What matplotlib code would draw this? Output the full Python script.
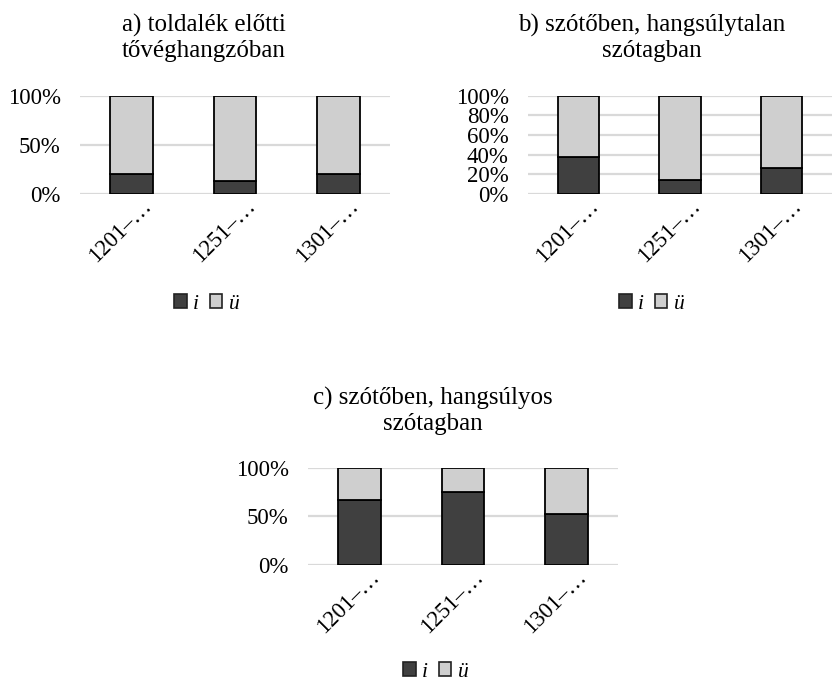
import numpy as np
import matplotlib
matplotlib.use("Agg")
import matplotlib.pyplot as plt
from matplotlib.patches import Patch
from matplotlib.transforms import ScaledTranslation
from matplotlib.ticker import FuncFormatter

plt.rcParams["font.family"] = ["Liberation Serif", "DejaVu Serif"]

# data (shares of i, the rest is ü)
periods = ["1201–…", "1251–…", "1301–…"]
titles = ["a) toldalék előtti\ntővéghangzóban",
          "b) szótőben, hangsúlytalan\nszótagban",
          "c) szótőben, hangsúlyos\nszótagban"]
share_i = [
    [0.20, 0.13, 0.20],
    [0.38, 0.14, 0.265],
    [0.668, 0.75, 0.52],
]
ytick_sets = [
    [0, 0.5, 1.0],
    [0, 0.2, 0.4, 0.6, 0.8, 1.0],
    [0, 0.5, 1.0],
]
legend_labels = ["i", "ü"]

DARK = "#404040"
LIGHT = "#cfcfcf"
GRID = "#d9d9d9"

W, H = 834, 685
fig = plt.figure(figsize=(W / 100, H / 100), dpi=100)

# panel boxes in pixels: left, right, top(100%), bottom(0%)
boxes = [(80, 390, 95.7, 194), (528, 832, 95.7, 194), (308, 618, 467.7, 565)]
title_pos = [(204, 38), (652, 38), (433, 411)]
legend_pos = [(207, 304), (652, 304), (436, 672)]

for k in range(3):
    l, r, t, b = boxes[k]
    ax = fig.add_axes([l / W, 1 - b / H, (r - l) / W, (b - t) / H])
    x = np.arange(len(periods))
    vi = np.array(share_i[k])
    ax.bar(x, vi, width=0.41, color=DARK, edgecolor="black", lw=1.3, zorder=3)
    ax.bar(x, 1 - vi, bottom=vi, width=0.41, color=LIGHT, edgecolor="black", lw=1.3, zorder=3)
    ax.set_xlim(-0.5, 2.5)
    ax.set_ylim(0, 1)
    ax.set_yticks(ytick_sets[k])
    ax.yaxis.set_major_formatter(FuncFormatter(lambda v, p: f"{v*100:.0f}%"))
    ax.grid(axis="y", color=GRID, lw=1.6, zorder=0)
    ax.set_axisbelow(True)
    for s in ax.spines.values():
        s.set_visible(False)
    ax.tick_params(axis="y", length=0, pad=14, labelsize=16.5)
    ax.tick_params(axis="x", length=0, pad=0, labelsize=16.5)
    ax.set_xticks(x)
    ax.set_xticklabels(periods, rotation=45, ha="right", va="baseline",
                       rotation_mode="anchor")
    off = ScaledTranslation(0.21, -0.13, fig.dpi_scale_trans)
    for lab in ax.get_xticklabels():
        lab.set_transform(lab.get_transform() + off)

    tx, ty = title_pos[k]
    fig.text(tx / W, 1 - ty / H, titles[k], ha="center", va="center",
             fontsize=18, linespacing=1.22)

    handles = [Patch(facecolor=DARK, edgecolor="#222222", lw=1.2),
               Patch(facecolor=LIGHT, edgecolor="#222222", lw=1.2)]
    lx, ly = legend_pos[k]
    fig.legend(handles, legend_labels, loc="center", ncol=2,
               bbox_to_anchor=(lx / W, 1 - ly / H), frameon=False,
               prop={"style": "italic", "size": 15.5},
               handlelength=0.58, handleheight=0.58, handletextpad=0.3,
               columnspacing=0.5, borderpad=0)

fig.savefig("out.png", dpi=100)
